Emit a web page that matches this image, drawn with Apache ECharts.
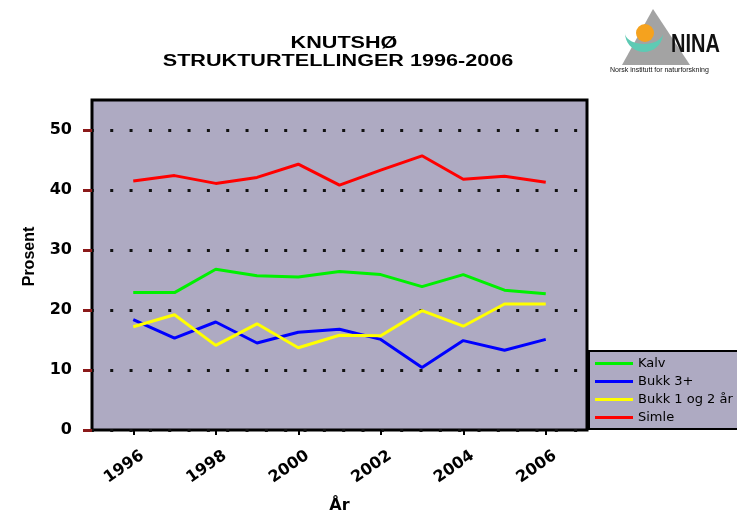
<!DOCTYPE html>
<html>
<head>
<meta charset="utf-8">
<script src="https://cdn.jsdelivr.net/npm/echarts@6/dist/echarts.min.js"></script>
<style>
html,body{margin:0;padding:0;background:#fff;}
#chart{width:737px;height:519px;}
</style>
</head>
<body>
<div id="chart"></div>
<script>
// ---- data ----
const years = [1996, 1997, 1998, 1999, 2000, 2001, 2002, 2003, 2004, 2005, 2006];
const kalv   = [22.9, 22.9, 26.8, 25.7, 25.5, 26.4, 25.9, 23.9, 25.9, 23.3, 22.7];
const bukk3  = [18.4, 15.3, 18.0, 14.5, 16.3, 16.8, 15.1, 10.4, 14.9, 13.3, 15.1];
const bukk12 = [17.2, 19.2, 14.1, 17.7, 13.7, 15.8, 15.7, 19.9, 17.3, 21.0, 21.0];
const simle  = [41.5, 42.4, 41.1, 42.1, 44.3, 40.8, 43.3, 45.7, 41.8, 42.3, 41.3];
const seriesNames = ['Kalv', 'Bukk 3+', 'Bukk 1 og 2 år', 'Simle'];
const yTickValues = [0, 10, 20, 30, 40, 50];
const xTickValues = [1996, 1998, 2000, 2002, 2004, 2006];
const titleLines = ['KNUTSHØ', 'STRUKTURTELLINGER 1996-2006'];

const seriesValues = [kalv, bukk3, bukk12, simle];
const seriesColors = ['#00f000', '#0000ff', '#ffff00', '#ff0000'];

// logo crescent outline (decoration)
function crescentPoints() {
  const pts = [];
  const cx = 644, cy = 33;
  for (let a = 0; a <= 180; a += 10) {
    const r = a * Math.PI / 180;
    pts.push([cx + 19 * Math.cos(r), cy + 19 * Math.sin(r)]);
  }
  for (let a = 180; a >= 0; a -= 10) {
    const r = a * Math.PI / 180;
    pts.push([cx + 19 * Math.cos(r), cy + 11 * Math.sin(r)]);
  }
  return pts;
}

const chart = echarts.init(document.getElementById('chart'), null, {renderer: 'canvas'});

const option = {
  backgroundColor: '#ffffff',
  animation: false,
  grid: {
    left: 92, top: 100, right: 150, bottom: 89,
    show: true,
    backgroundColor: '#aeaac2',
    borderColor: '#000000',
    borderWidth: 3
  },
  legend: {
    orient: 'vertical',
    left: 589, top: 351,
    padding: [6, 4, 5, 6],
    itemGap: 5,
    itemWidth: 38,
    itemHeight: 3,
    icon: 'rect',
    z: 10,
    data: seriesNames,
    textStyle: {fontFamily: 'DejaVu Sans', fontSize: 13, color: '#000'}
  },
  xAxis: {
    type: 'value',
    min: 1995, max: 2007,
    name: 'År',
    nameLocation: 'middle',
    nameGap: 68,
    nameTextStyle: {fontFamily: 'DejaVu Sans', fontWeight: 'bold', fontSize: 16, color: '#000'},
    axisLine: {show: false},
    splitLine: {show: false},
    axisTick: {show: true, customValues: xTickValues, length: 5, lineStyle: {color: '#000', width: 2}},
    axisLabel: {
      customValues: xTickValues,
      rotate: 35,
      margin: 11,
      verticalAlign: 'top',
      padding: [8, 0, 0, 0],
      fontFamily: 'DejaVu Sans', fontWeight: 'bold', fontSize: 16, color: '#000',
      formatter: v => String(v)
    }
  },
  yAxis: {
    type: 'value',
    min: 0, max: 55, interval: 10,
    name: 'Prosent',
    nameLocation: 'middle',
    nameRotate: 90,
    nameGap: 54,
    nameTextStyle: {fontFamily: 'Liberation Sans', fontWeight: 'bold', fontSize: 16, color: '#000', padding: [0, 0, 0, 17]},
    axisLine: {show: false},
    axisTick: {show: true, customValues: yTickValues, length: 9, lineStyle: {color: '#8b1a1a', width: 3}},
    axisLabel: {
      customValues: yTickValues,
      margin: 20,
      fontFamily: 'DejaVu Sans', fontWeight: 'bold', fontSize: 16, color: '#000'
    },
    splitLine: {
      show: true,
      lineStyle: {color: '#111', width: 3, type: [3, 16.33], dashOffset: 1.1}
    }
  },
  series: seriesNames.map((name, i) => ({
    name: name,
    type: 'line',
    data: years.map((y, j) => [y, seriesValues[i][j]]),
    showSymbol: false,
    symbol: 'none',
    lineStyle: {color: seriesColors[i], width: 3},
    itemStyle: {color: seriesColors[i]}
  })),
  graphic: [
    {type: 'text', x: 344, y: 44, scaleX: 1.35, style: {text: titleLines[0], fill: '#000', font: 'bold 16px "Liberation Sans", Arial, sans-serif', textAlign: 'center', textVerticalAlign: 'middle'}},
    {type: 'text', x: 338, y: 62, scaleX: 1.35, style: {text: titleLines[1], fill: '#000', font: 'bold 16px "Liberation Sans", Arial, sans-serif', textAlign: 'center', textVerticalAlign: 'middle'}},
    // legend box (extends past the right edge, as in the source)
    {type: 'rect', z: 1, shape: {x: 589, y: 351, width: 170, height: 78}, style: {fill: '#aeaac2', stroke: '#000', lineWidth: 2}},
    // NINA logo
    {type: 'polygon', shape: {points: [[653, 9], [622, 65], [690, 65]]}, style: {fill: '#a3a3a3'}},
    {type: 'polygon', shape: {points: crescentPoints()}, style: {fill: '#5ecab4'}},
    {type: 'circle', shape: {cx: 645, cy: 33, r: 9}, style: {fill: '#f5a21e'}},
    {type: 'text', x: 671, y: 58, scaleX: 0.8, style: {text: 'NINA', fill: '#111', font: 'bold 25px "Liberation Sans", Arial, sans-serif', textAlign: 'left', textVerticalAlign: 'bottom'}},
    {type: 'text', x: 610, y: 70, style: {text: 'Norsk institutt for naturforskning', fill: '#111', font: '7px "Liberation Sans", Arial, sans-serif', textAlign: 'left', textVerticalAlign: 'middle'}}
  ]
};

chart.setOption(option);
</script>
</body>
</html>
